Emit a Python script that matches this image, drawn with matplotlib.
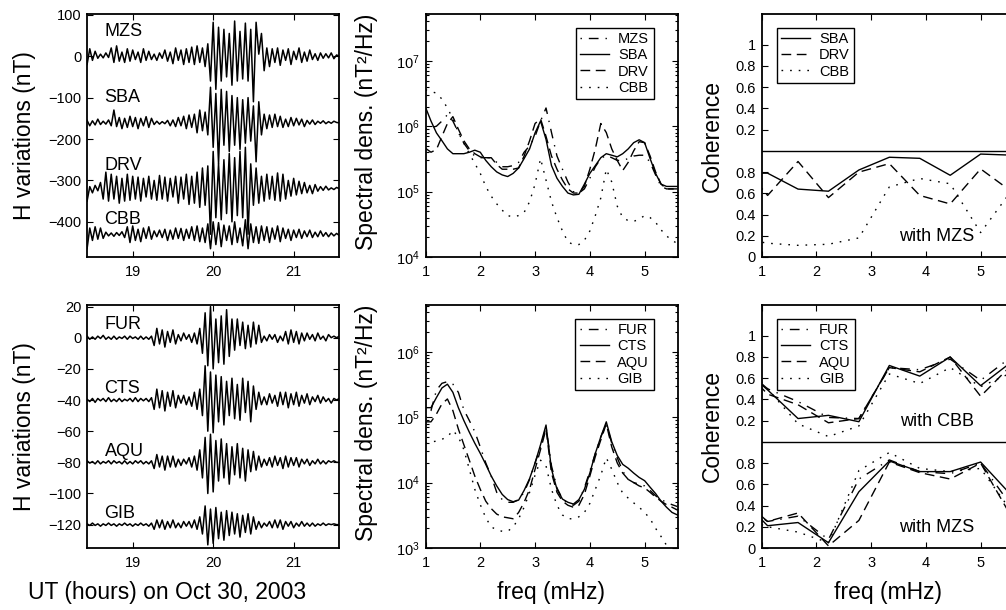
import numpy as np
import matplotlib
matplotlib.use('Agg')
import matplotlib.pyplot as plt
from matplotlib.ticker import FixedLocator, LogLocator, NullFormatter

plt.rcParams['font.family'] = ['Liberation Sans', 'DejaVu Sans']
plt.rcParams['mathtext.fontset'] = 'custom'
plt.rcParams['mathtext.rm'] = 'Liberation Sans'
plt.rcParams['mathtext.it'] = 'Liberation Sans:italic'

# ---------------- time series (2-min turning points, nT) ----------------
t_start = 18.433          # 18:26 UT
t_step = 2 / 60.0         # hours

top_names = ['MZS', 'SBA', 'DRV', 'CBB']
top_offsets = [0, -160, -320, -430]
mzs = [-20, 18, -10, 12, -5, 5, -4, 8, -3, 20, -15, 25, -12, 10, -15, 18, -12,
       15, -8, 10, -15, 18, -10, 12, -8, 5, -10, 8, -5, 15, -12, 10,
       -18, 20, -10, 15, -20, 18, -15, 22, -20, 25, -15, 20, -25, 30,
       -60, 82, -80, 70, -60, 65, -50, 55, -70, 85, -60, 60, -55, 80, -60, 65, -110, 82, 5, 55, -35,
       20, -25, 18, -15, 20, -22, 15, -10, 18, -20, 12, -8, 20, -15, 10, -12, 15, -8, 6, -10,
       8, -5, 6, -4, 8, -6, 3, 0]
sba = [5, -8, 4, -6, 8, -5, 3, -4, 6, -8, 30, -10, 12, -15, 10, -12, 15,
       -10, 12, -15, 10, -8, 14, -12, 10, -5, 3, -4, 2, -3, 5, -8,
       6, -10, 12, -8, 15, -15, 18, -12, 20, -25, 30, -20, 25, -30,
       85, -60, 70, -100, 80, -55, 75, -70, 65, -55, 60, -65, 55, -50, 60, -45, 40, -95, 50, -30, 20,
       -15, 18, -12, 20, -10, 15, -12, 8, -10, 12, -8, 10, -6, 8, -10, 5, -4, 6, -5, 3,
       -2, 4, -3, 2, -2, 3, 0, -1]
drv = [-30, 5, -10, 8, -5, 15, -25, 40, -30, 35, -25, 30, -35, 25, -30, 35, -28,
       30, -25, 28, -30, 25, -20, 30, -25, 20, -28, 32, -25, 28, -30, 25,
       -20, 30, -35, 28, -25, 35, -38, 30, -35, 40, -45, 50, -40, 55,
       -110, 90, -70, 60, -75, 70, -60, 85, -80, 75, -65, 90, -70, 100, -110, 60, -40, 50, -35, 30, -30,
       35, -25, 30, -28, 38, -30, 35, -25, 20, -18, 25, -15, 18, -12, 15, -10, 8, -12, 10, -6,
       5, -4, 6, -3, 2, -2, 3, 0]
cbb = [-35, 15, -15, 18, -12, 15, -10, 5, -4, 3, -5, 4, -3, 6, -8, 18, -20,
       20, -15, 12, -18, 15, -10, 18, -12, 8, -6, 10, -8, 12, -15, 10,
       -12, 15, -10, 14, -15, 12, -10, 18, -15, 20, -18, 15, -20, 25,
       -35, 30, -25, 28, -30, 22, -15, 20, -25, 30, -20, 15, -28, 35, -35, 25, -20, 18, -22, 20, -15,
       18, -20, 15, -12, 20, -18, 15, -10, 12, -15, 10, -8, 12, -10, 8, -6, 10, -8, 5, -6,
       8, -5, 4, -6, 3, -4, 2, -3]

bot_names = ['FUR', 'CTS', 'AQU', 'GIB']
bot_offsets = [0, -40, -80, -120]
fur = [1, -1, 0.5, -1, 1, -0.5, 1.5, -1, 0.5, -1, 1, -1, 0.5, -0.5, 1, -1, 1, -0.5, 0.5, -1, 1, -1, 0.5, -1, 1,
       -5, 6, -4, 5, -6, 4, -3, 5, -4,
       2, -2, 3, -1, 2, -3, 3, -4, 6, -10,
       16, -18, 20, -20, 12, -16, 14, -17, 18, -12, 12, -8,
       12, -5, 10, -7, 8, -6, 10, -4, 8, -3,
       1, -2, 2, -1, 2, -3, 1, -2, 4, -4, 5, -3, 4, -4, 3, -2, 3, -1, 2, -2, 3, -1, 1, -2, 2, 0, 1, 0, 1]
cts = [0.5, -1, 1, -1.5, 1, -0.5, 1, -1, 1.5, -1, 0.5, -1, 1, -1, 0.5, -0.5, 1, -1, 1.5, -1, 1, -0.5, 1, -1, 1.5,
       -6, 7, -5, 6, -7, 5, -4, 6, -5,
       3, -2, 3, -3, 2, -4, 5, -6, 7, -10,
       22, -20, 18, -21, 16, -14, 15, -16, 12, -10, 14, -12,
       10, -13, 14, -8, 12, -14, 9, -6, 5, -3,
       2, -3, 4, -2, 3, -4, 5, -3, 5, -5, 4, -3, 5, -4, 3, -2, 4, -3, 2, -1, 3, -2, 2, -1, 1, -2, 1, 0, 1]
aqu = [1, -0.5, 0.5, -1, 1, -1, 0.5, -0.5, 1, -1, 1, -0.5, 0.5, -1, 1, -1, 0.5, -1, 1, -0.5, 1, -1, 0.5, -1, 1,
       -4, 5, -3, 4, -5, 4, -3, 4, -3,
       2, -2, 2, -1, 3, -3, 4, -5, 8, -10,
       16, -20, 18, -19, 14, -12, 15, -10, 12, -14, 10, -8,
       12, -10, 9, -12, 8, -6, 7, -5, 4, -3,
       2, -2, 3, -3, 4, -2, 3, -4, 4, -3, 3, -2, 3, -3, 2, -1, 2, -2, 1, -1, 2, -1, 1, -1, 1, 0, 1, 0, 0]
gib = [0.5, -0.5, 1, -0.5, 0.5, -1, 0.5, -0.5, 1, -0.5, 0.5, -1, 0.5, -0.5, 1, -0.5, 0.5, -1, 0.5, -0.5, 1, -0.5, 0.5, -1, 1,
       -3, 3, -2, 3, -3, 2, -2, 3, -2,
       1, -2, 2, -1, 2, -2, 3, -3, 5, -6,
       12, -13, 10, -12, 11, -9, 8, -10, 9, -7, 8, -6,
       7, -8, 6, -5, 7, -6, 5, -3, 2, -2,
       1, -1, 2, -2, 3, -2, 3, -3, 2, -1, 2, -2, 1, -1, 2, -1, 1, -1, 1, -1, 0.5, -0.5, 1, -0.5, 0.5, 0, 0.5, 0, 0]

# ---------------- spectral densities (nT^2/Hz) on 0.1 mHz grid, 1.0 .. 5.6 ----------------
psd_freq = np.round(np.arange(1.0, 5.65, 0.1), 1)
psd_mzs = [9.0e5, 9.5e5, 1.0e6, 1.2e6, 1.5e6, 1.2e6, 8.0e5, 5.5e5, 4.2e5, 3.5e5,
           3.3e5, 3.3e5, 3.3e5, 2.8e5, 2.4e5, 2.4e5, 2.5e5, 2.8e5, 4.0e5, 5.0e5,
           7.0e5, 1.2e6, 1.9e6, 8.0e5, 3.5e5, 2.2e5, 1.4e5, 1.0e5, 9.5e4, 1.1e5,
           1.6e5, 2.4e5, 3.2e5, 3.6e5, 3.3e5, 3.0e5, 3.0e5, 3.2e5, 3.5e5, 3.6e5,
           3.6e5, 2.8e5, 1.8e5, 1.2e5, 1.1e5, 1.1e5, 1.1e5]
psd_sba = [1.95e6, 1.2e6, 7.9e5, 6.0e5, 4.5e5, 3.8e5, 3.8e5, 3.8e5, 4.0e5, 4.3e5,
           4.0e5, 3.0e5, 2.4e5, 2.0e5, 1.8e5, 1.7e5, 1.9e5, 2.3e5, 3.2e5, 4.5e5,
           7.9e5, 1.2e6, 6.3e5, 2.5e5, 1.6e5, 1.2e5, 9.5e4, 8.9e4, 9.1e4, 1.3e5,
           1.9e5, 2.5e5, 3.3e5, 3.8e5, 3.6e5, 3.4e5, 3.8e5, 4.5e5, 5.6e5, 6.2e5,
           5.6e5, 3.2e5, 1.9e5, 1.3e5, 1.2e5, 1.2e5, 1.2e5]
psd_drv = [4.6e5, 4.0e5, 4.4e5, 7.0e5, 1.1e6, 1.4e6, 9.0e5, 6.0e5, 4.5e5, 3.8e5,
           3.4e5, 3.3e5, 3.3e5, 2.6e5, 2.2e5, 2.2e5, 2.2e5, 2.3e5, 3.5e5, 6.0e5,
           1.1e6, 1.3e6, 7.0e5, 3.5e5, 2.2e5, 1.5e5, 1.1e5, 9.5e4, 9.5e4, 1.2e5,
           2.2e5, 4.5e5, 1.1e6, 8.0e5, 4.5e5, 3.0e5, 2.1e5, 2.8e5, 4.2e5, 5.8e5,
           5.6e5, 3.5e5, 2.0e5, 1.3e5, 1.1e5, 1.1e5, 1.1e5]
psd_cbb = [3.6e6, 3.4e6, 3.2e6, 2.6e6, 1.9e6, 1.3e6, 8.0e5, 5.5e5, 3.8e5, 2.7e5,
           1.9e5, 1.2e5, 8.5e4, 6.5e4, 5.2e4, 4.3e4, 4.1e4, 4.3e4, 4.8e4, 7.0e4,
           1.3e5, 3.2e5, 1.5e5, 7.0e4, 4.0e4, 2.5e4, 1.7e4, 1.55e4, 1.55e4, 1.8e4,
           2.5e4, 4.3e4, 8.0e4, 2.2e5, 1.4e5, 6.0e4, 4.0e4, 3.6e4, 3.5e4, 3.8e4,
           4.3e4, 4.0e4, 3.4e4, 2.6e4, 2.1e4, 1.8e4, 1.6e4]

psd_fur = [1.0e5, 1.26e5, 2.6e5, 3.3e5, 3.5e5, 3.2e5, 2.4e5, 1.3e5, 8.9e4, 6.0e4,
           3.5e4, 2.0e4, 1.26e4, 7.1e3, 5.5e3, 5.0e3, 5.0e3, 5.5e3, 7.1e3, 1.12e4,
           2.0e4, 3.5e4, 7.1e4, 1.8e4, 8.3e3, 5.6e3, 4.8e3, 4.5e3, 5.2e3, 8.3e3,
           1.5e4, 2.8e4, 5.0e4, 7.9e4, 4.0e4, 2.4e4, 1.5e4, 1.12e4, 1.0e4, 9.5e3,
           8.9e3, 7.6e3, 6.3e3, 5.5e3, 5.0e3, 4.6e3, 4.3e3]
psd_cts = [1.4e5, 1.4e5, 2.0e5, 2.8e5, 3.2e5, 2.4e5, 1.4e5, 8.9e4, 5.9e4, 4.0e4,
           2.8e4, 1.9e4, 1.26e4, 8.9e3, 6.6e3, 5.5e3, 5.1e3, 5.4e3, 7.6e3, 1.15e4,
           2.0e4, 3.8e4, 7.6e4, 1.6e4, 7.9e3, 5.6e3, 5.0e3, 4.7e3, 5.5e3, 7.9e3,
           1.4e4, 2.8e4, 5.0e4, 8.5e4, 4.2e4, 2.6e4, 1.9e4, 1.66e4, 1.4e4, 1.2e4,
           1.07e4, 8.5e3, 6.8e3, 5.2e3, 4.2e3, 3.5e3, 3.2e3]
psd_aqu = [8.5e4, 8.5e4, 1.12e5, 1.6e5, 1.9e5, 1.26e5, 6.6e4, 3.8e4, 2.2e4, 1.26e4,
           7.9e3, 5.2e3, 4.0e3, 3.3e3, 3.0e3, 2.9e3, 2.8e3, 3.5e3, 5.0e3, 7.9e3,
           1.6e4, 3.2e4, 6.6e4, 1.4e4, 7.1e3, 5.2e3, 4.5e3, 4.2e3, 4.5e3, 6.6e3,
           1.26e4, 2.5e4, 4.5e4, 7.9e4, 3.5e4, 2.0e4, 1.4e4, 1.12e4, 1.0e4, 8.9e3,
           8.3e3, 7.1e3, 6.0e3, 5.2e3, 4.6e3, 4.2e3, 3.8e3]
psd_gib = [4.0e4, 4.2e4, 4.3e4, 4.6e4, 5.0e4, 6.3e4, 5.0e4, 3.2e4, 1.6e4, 7.9e3,
           4.6e3, 2.9e3, 2.1e3, 1.9e3, 1.8e3, 1.8e3, 2.1e3, 2.8e3, 4.2e3, 7.1e3,
           1.3e4, 2.2e4, 1.8e4, 7.9e3, 4.5e3, 3.2e3, 2.8e3, 2.8e3, 3.0e3, 3.5e3,
           4.8e3, 7.9e3, 1.3e4, 2.4e4, 1.6e4, 1.0e4, 6.9e3, 5.8e3, 4.9e3, 4.2e3,
           3.5e3, 2.8e3, 2.0e3, 1.5e3, 1.1e3, 9.5e2, 9.0e2]

# ---------------- coherence, resolution 1/30 min = 0.556 mHz ----------------
coh_freq = np.arange(1, 12) / 1.8
coh_mzs_sba = [0.79, 0.79, 0.64, 0.62, 0.82, 0.94, 0.93, 0.77, 0.97, 0.96, 0.95]
coh_mzs_drv = [0.93, 0.58, 0.90, 0.56, 0.80, 0.88, 0.58, 0.50, 0.83, 0.62, 0.70]
coh_mzs_cbb = [0.18, 0.13, 0.11, 0.12, 0.18, 0.66, 0.74, 0.69, 0.23, 0.62, 0.70]

coh_cbb_fur = [0.75, 0.50, 0.38, 0.23, 0.22, 0.70, 0.68, 0.78, 0.58, 0.80, 0.80]
coh_cbb_cts = [0.74, 0.49, 0.22, 0.25, 0.19, 0.72, 0.62, 0.80, 0.53, 0.75, 0.80]
coh_cbb_aqu = [0.75, 0.45, 0.35, 0.18, 0.22, 0.70, 0.66, 0.80, 0.43, 0.72, 0.80]
coh_cbb_gib = [0.80, 0.50, 0.17, 0.05, 0.15, 0.64, 0.55, 0.70, 0.52, 0.65, 0.70]

coh_mzs_fur = [0.45, 0.25, 0.30, 0.08, 0.65, 0.83, 0.72, 0.70, 0.80, 0.40, 0.30]
coh_mzs_cts = [0.50, 0.21, 0.24, 0.05, 0.53, 0.82, 0.72, 0.72, 0.81, 0.50, 0.40]
coh_mzs_aqu = [0.50, 0.25, 0.33, 0.02, 0.26, 0.81, 0.71, 0.65, 0.80, 0.30, 0.30]
coh_mzs_gib = [0.30, 0.20, 0.15, 0.05, 0.73, 0.90, 0.75, 0.72, 0.75, 0.35, 0.30]

# line styles (MATLAB look)
DASHDOT = (0, (1, 5, 7, 5))
DASH = (0, (7, 4))
DOT = (0, (1.2, 5))
SOLID = '-'

W, H = 1006, 610
fig = plt.figure(figsize=(W / 100, H / 100), dpi=100)


def add_ax(left, top, w=252, h=243):
    return fig.add_axes([left / W, 1 - (top + h) / H, w / W, h / H])


def style(ax):
    ax.tick_params(which='both', direction='in', top=True, right=True,
                   labelsize=10.5, width=0.8, colors='black')
    ax.tick_params(which='major', length=4, pad=4)
    ax.tick_params(which='minor', length=2)
    ax.tick_params(axis='x', pad=6)
    for s in ax.spines.values():
        s.set_linewidth(1.3)


def leg(ax, loc, anchor):
    lg = ax.legend(loc=loc, bbox_to_anchor=anchor, borderaxespad=0, fontsize=10.5,
                   fancybox=False, edgecolor='black', framealpha=1,
                   handlelength=2.0, handletextpad=0.6, labelspacing=0.15,
                   borderpad=0.3)
    lg.get_frame().set_linewidth(1.0)


# ---- time series ----
for top, names, offs, series, ylim, yt, lab_y in [
        (14, top_names, top_offsets, [mzs, sba, drv, cbb], (-485, 102),
         [-400, -300, -200, -100, 0, 100], [60, -100, -265, -395]),
        (305, bot_names, bot_offsets, [fur, cts, aqu, gib], (-135, 21),
         [-120, -100, -80, -60, -40, -20, 0, 20], [8.5, -32.5, -73, -113])]:
    ax = add_ax(87, top)
    for name, off, v, ly in zip(names, offs, series, lab_y):
        t = t_start + np.arange(len(v)) * t_step
        ax.plot(t, np.array(v) + off, color='black', lw=1.1)
        ax.text(18.65, ly, name, fontsize=13, va='center', ha='left')
    ax.set_xlim(18.432, 21.563)
    ax.set_ylim(*ylim)
    ax.set_xticks([19, 20, 21])
    ax.set_yticks(yt)
    style(ax)

# ---- spectra ----
for top, names, curves, ylim, yt in [
        (14, top_names, [psd_mzs, psd_sba, psd_drv, psd_cbb], (1e4, 5.2e7), [1e4, 1e5, 1e6, 1e7]),
        (305, bot_names, [psd_fur, psd_cts, psd_aqu, psd_gib], (1e3, 5.2e6), [1e3, 1e4, 1e5, 1e6])]:
    ax = add_ax(425.5, top)
    for name, v, ls in zip(names, curves, [DASHDOT, SOLID, DASH, DOT]):
        ax.plot(psd_freq, v, color='black', lw=1.0, linestyle=ls, label=name)
    ax.set_yscale('log')
    ax.set_xlim(1, 5.6)
    ax.set_ylim(*ylim)
    ax.set_xticks([1, 2, 3, 4, 5])
    ax.yaxis.set_major_locator(FixedLocator(yt))
    ax.yaxis.set_minor_locator(LogLocator(base=10, subs=np.arange(2, 10)))
    ax.yaxis.set_minor_formatter(NullFormatter())
    style(ax)
    leg(ax, 'upper right', (0.905, 0.943))

# ---- coherence ----
coh_ticks = [0, 0.2, 0.4, 0.6, 0.8, 1.2, 1.4, 1.6, 1.8, 2.0]
coh_ticklabels = ['0', '0.2', '0.4', '0.6', '0.8', '0.2', '0.4', '0.6', '0.8', '1']

ax = add_ax(761.5, 14)
for name, v, ls in zip(['SBA', 'DRV', 'CBB'], [coh_mzs_sba, coh_mzs_drv, coh_mzs_cbb],
                       [SOLID, DASH, DOT]):
    ax.plot(coh_freq, v, color='black', lw=1.0, linestyle=ls, label=name)
ax.axhline(1.0, color='black', lw=1.0)
ax.text(4.2, 0.19, 'with MZS', fontsize=13, ha='center', va='center')
ax.set_xlim(1, 5.6)
ax.set_ylim(0, 2.29)
ax.set_xticks([1, 2, 3, 4, 5])
ax.set_yticks(coh_ticks)
ax.set_yticklabels(coh_ticklabels)
style(ax)
leg(ax, 'upper left', (0.06, 0.943))

ax = add_ax(761.5, 305)
for name, vc, vm, ls in zip(bot_names,
                            [coh_cbb_fur, coh_cbb_cts, coh_cbb_aqu, coh_cbb_gib],
                            [coh_mzs_fur, coh_mzs_cts, coh_mzs_aqu, coh_mzs_gib],
                            [DASHDOT, SOLID, DASH, DOT]):
    ax.plot(coh_freq, np.array(vc) + 1.0, color='black', lw=1.0, linestyle=ls, label=name)
    ax.plot(coh_freq, vm, color='black', lw=1.0, linestyle=ls)
ax.axhline(1.0, color='black', lw=1.0)
ax.text(4.2, 1.19, 'with CBB', fontsize=13, ha='center', va='center')
ax.text(4.2, 0.19, 'with MZS', fontsize=13, ha='center', va='center')
ax.set_xlim(1, 5.6)
ax.set_ylim(0, 2.29)
ax.set_xticks([1, 2, 3, 4, 5])
ax.set_yticks(coh_ticks)
ax.set_yticklabels(coh_ticklabels)
style(ax)
leg(ax, 'upper left', (0.06, 0.943))

# ---- axis titles ----
LBL = 16.5
fig.text(25 / W, 1 - 135.5 / H, 'H variations (nT)', rotation=90, ha='center', va='center', fontsize=LBL)
fig.text(25 / W, 1 - 426.5 / H, 'H variations (nT)', rotation=90, ha='center', va='center', fontsize=LBL)
fig.text(367 / W, 1 - 132 / H, 'Spectral dens. (nT²/Hz)', rotation=90, ha='center', va='center', fontsize=LBL)
fig.text(367 / W, 1 - 423 / H, 'Spectral dens. (nT²/Hz)', rotation=90, ha='center', va='center', fontsize=LBL)
fig.text(712 / W, 1 - 135.5 / H, 'Coherence', rotation=90, ha='center', va='center', fontsize=LBL)
fig.text(712 / W, 1 - 426.5 / H, 'Coherence', rotation=90, ha='center', va='center', fontsize=LBL)
fig.text(167 / W, 1 - 592 / H, 'UT (hours) on Oct 30, 2003', ha='center', va='center', fontsize=LBL)
fig.text(551 / W, 1 - 592 / H, 'freq (mHz)', ha='center', va='center', fontsize=LBL)
fig.text(888 / W, 1 - 592 / H, 'freq (mHz)', ha='center', va='center', fontsize=LBL)

fig.savefig('out.png', dpi=100)
